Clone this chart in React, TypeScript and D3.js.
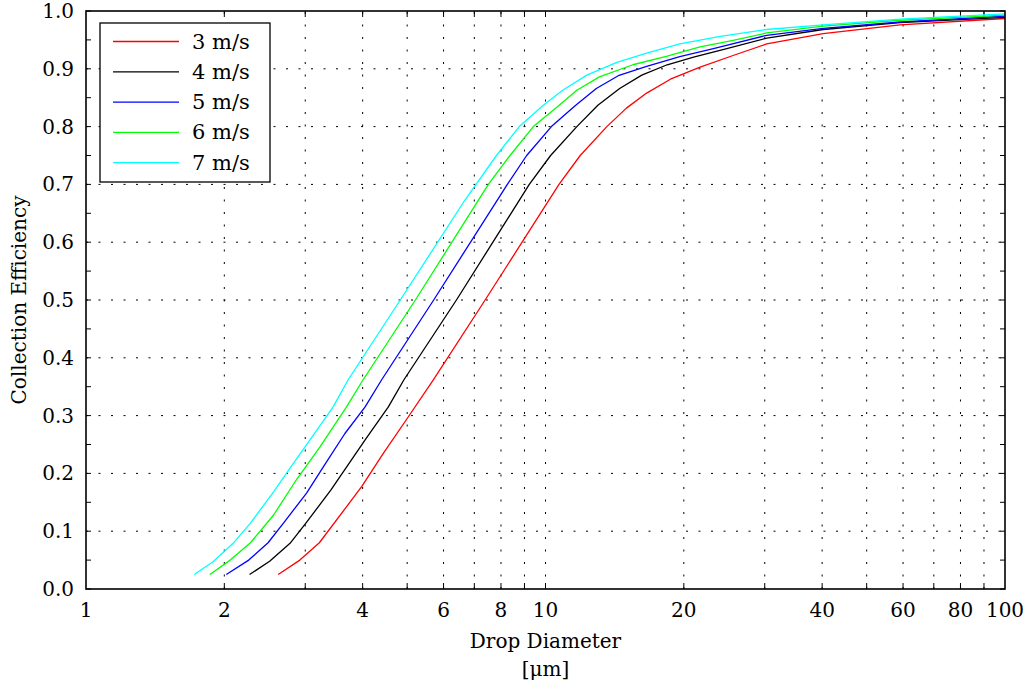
import React from 'react';
import * as d3 from 'd3';

const seriesNames = ['3 m/s', '4 m/s', '5 m/s', '6 m/s', '7 m/s'];
const seriesColors = ['#ff0000', '#000000', '#0000ff', '#00ff00', '#00ffff'];

const diam3 = [2.62, 2.92, 3.22, 3.98, 4.44, 5.03, 5.70, 7.39, 10.7, 11.9, 13.6, 15.0, 16.6, 18.7, 21.7, 25.6, 30.3, 40.2, 59.1, 100];
const eff3 = [0.025, 0.050, 0.080, 0.177, 0.235, 0.298, 0.362, 0.5, 0.70, 0.75, 0.80, 0.832, 0.858, 0.882, 0.903, 0.923, 0.943, 0.961, 0.976, 0.987];

const diam4 = [2.27, 2.51, 2.78, 3.01, 3.41, 4.05, 4.55, 4.92, 6.40, 9.22, 10.26, 11.7, 13.0, 14.5, 16.2, 18.4, 21.0, 24.8, 30.3, 40.2, 59.1, 100];
const eff4 = [0.025, 0.048, 0.079, 0.114, 0.171, 0.258, 0.315, 0.362, 0.5, 0.70, 0.75, 0.80, 0.837, 0.866, 0.889, 0.907, 0.920, 0.935, 0.953, 0.968, 0.980, 0.989];

const diam5 = [2.02, 2.26, 2.49, 2.69, 3.02, 3.29, 3.66, 4.05, 4.40, 5.71, 8.26, 9.1, 10.3, 11.6, 12.9, 14.4, 16.6, 19.6, 23.2, 30.3, 40.2, 59.1, 100];
const eff5 = [0.025, 0.050, 0.080, 0.114, 0.166, 0.212, 0.269, 0.315, 0.362, 0.5, 0.70, 0.75, 0.80, 0.836, 0.866, 0.888, 0.904, 0.921, 0.935, 0.958, 0.970, 0.981, 0.991];

const diam6 = [1.86, 2.06, 2.28, 2.56, 2.87, 3.23, 3.69, 4.01, 5.21, 7.51, 8.37, 9.41, 10.6, 11.7, 13.1, 15.5, 18.4, 21.7, 25.6, 30.3, 40.2, 59.1, 100];
const eff6 = [0.025, 0.050, 0.080, 0.128, 0.189, 0.246, 0.315, 0.362, 0.5, 0.70, 0.75, 0.80, 0.834, 0.863, 0.886, 0.907, 0.922, 0.938, 0.949, 0.962, 0.974, 0.984, 0.993];

const diam7 = [1.72, 1.89, 2.09, 2.28, 2.56, 2.78, 3.18, 3.45, 3.72, 4.83, 6.68, 7.82, 8.77, 9.89, 10.9, 12.3, 14.3, 16.6, 19.6, 24.0, 30.3, 40.2, 59.1, 100];
const eff7 = [0.025, 0.047, 0.079, 0.114, 0.168, 0.209, 0.275, 0.315, 0.362, 0.5, 0.673, 0.75, 0.80, 0.837, 0.863, 0.889, 0.911, 0.927, 0.943, 0.956, 0.968, 0.976, 0.986, 0.995];

const xGridValues = [2, 3, 4, 5, 6, 7, 8, 9, 10, 20, 30, 40, 50, 60, 70, 80, 90];
const xLabelValues = [1, 2, 4, 6, 8, 10, 20, 40, 60, 80, 100];
const yLabelValues = [0, 0.1, 0.2, 0.3, 0.4, 0.5, 0.6, 0.7, 0.8, 0.9, 1.0];
const yMinorValues = [0.05, 0.15, 0.25, 0.35, 0.45, 0.55, 0.65, 0.75, 0.85, 0.95];

const xTitle = 'Drop Diameter';
const xUnit = '[μm]';
const yTitle = 'Collection Efficiency';

const W = 1033;
const H = 689;
const L = 86;
const R = 1005;
const T = 11;
const B = 589;
const FONT = '"DejaVu Serif", serif';

export default function App() {
  const x = d3.scaleLog().domain([1, 100]).range([L, R]);
  const y = d3.scaleLinear().domain([0, 1]).range([B, T]);
  const series = [
    { d: diam3, e: eff3 },
    { d: diam4, e: eff4 },
    { d: diam5, e: eff5 },
    { d: diam6, e: eff6 },
    { d: diam7, e: eff7 },
  ];
  const line = d3
    .line<[number, number]>()
    .x((p) => x(p[0]))
    .y((p) => y(p[1]));

  const legendX = 100;
  const legendY = 23;
  const legendW = 170;
  const legendH = 159;
  const rowH = 30.3;

  return (
    <svg
      width={W}
      height={H}
      style={{ position: 'absolute', left: 0, top: 0, background: '#fff' }}
      fontFamily={FONT}
    >
      <rect x={0} y={0} width={W} height={H} fill="#fff" />
      {/* grid */}
      <g stroke="#000" strokeWidth={1} strokeDasharray="2,10.5">
        {xGridValues.map((v) => (
          <line key={'gx' + v} x1={x(v)} x2={x(v)} y1={B} y2={T} />
        ))}
        {yLabelValues
          .filter((v) => v > 0 && v < 1)
          .map((v) => (
            <line key={'gy' + v} x1={L} x2={R} y1={y(v)} y2={y(v)} />
          ))}
      </g>
      {/* ticks */}
      <g stroke="#000" strokeWidth={1}>
        {xGridValues.map((v) => (
          <g key={'tx' + v}>
            <line x1={x(v)} x2={x(v)} y1={B} y2={B - 6} />
            <line x1={x(v)} x2={x(v)} y1={T} y2={T + 6} />
          </g>
        ))}
        {[...yLabelValues, ...yMinorValues].map((v) => (
          <g key={'ty' + v}>
            <line x1={L} x2={L + 5} y1={y(v)} y2={y(v)} />
            <line x1={R} x2={R - 5} y1={y(v)} y2={y(v)} />
          </g>
        ))}
      </g>
      {/* curves */}
      <g fill="none" strokeWidth={1.3} strokeLinejoin="round">
        {series.map((s, i) => (
          <path
            key={'s' + i}
            d={line(s.d.map((dv, j) => [dv, s.e[j]] as [number, number])) || ''}
            stroke={seriesColors[i]}
          />
        ))}
      </g>
      {/* frame */}
      <rect x={L} y={T} width={R - L} height={B - T} fill="none" stroke="#000" strokeWidth={1.6} />
      {/* labels */}
      <g fontSize={20} fill="#000">
        {xLabelValues.map((v) => (
          <text key={'lx' + v} x={x(v)} y={B + 28} textAnchor="middle">
            {String(v)}
          </text>
        ))}
        {yLabelValues.map((v) => (
          <text key={'ly' + v} x={L - 12} y={y(v) + 7} textAnchor="end">
            {v.toFixed(1)}
          </text>
        ))}
        <text x={x(10)} y={648} textAnchor="middle">
          {xTitle}
        </text>
        <text x={x(10)} y={676} textAnchor="middle">
          {xUnit}
        </text>
        <text transform={`translate(26, ${(T + B) / 2}) rotate(-90)`} textAnchor="middle">
          {yTitle}
        </text>
      </g>
      {/* legend */}
      <g>
        <rect x={legendX} y={legendY} width={legendW} height={legendH} fill="#fff" stroke="#000" strokeWidth={1.3} />
        {seriesNames.map((n, i) => (
          <g key={'lg' + i}>
            <line
              x1={legendX + 13}
              x2={legendX + 79}
              y1={legendY + 18.5 + i * rowH}
              y2={legendY + 18.5 + i * rowH}
              stroke={seriesColors[i]}
              strokeWidth={1.3}
            />
            <text x={legendX + 92} y={legendY + 18.5 + i * rowH + 7} fontSize={21} fill="#000">
              {n}
            </text>
          </g>
        ))}
      </g>
    </svg>
  );
}
